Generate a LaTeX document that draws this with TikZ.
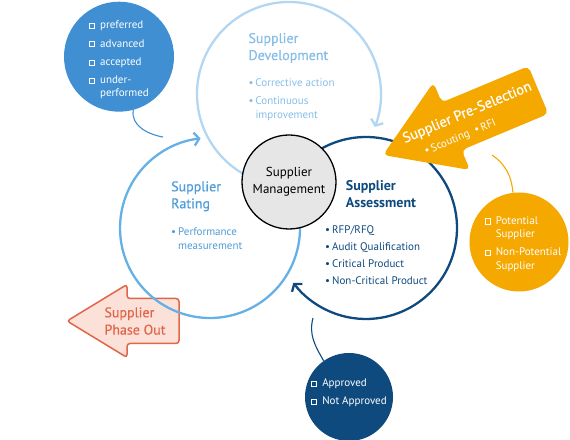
\documentclass[tikz,border=0pt]{standalone}
\usepackage{fontspec}
\setmainfont{PT Sans}
\newfontfamily\medfont[FakeBold=0.5]{PT Sans}
\usetikzlibrary{arrows.meta,positioning}

\definecolor{devline}{HTML}{B3D7F2}
\definecolor{devtext}{HTML}{86BEE8}
\definecolor{ratline}{HTML}{65B0E4}
\definecolor{rattext}{HTML}{4E9CD8}
\definecolor{prefblue}{HTML}{3F8FD2}
\definecolor{navy}{HTML}{0F4A7E}
\definecolor{amber}{HTML}{F5A800}
\definecolor{salmon}{HTML}{E2654A}
\definecolor{salmonbg}{HTML}{FBE1D8}
\definecolor{mgmtgray}{HTML}{E6E6E6}

\newcommand\boxitem{\raisebox{0.7pt}{\setlength\fboxsep{0pt}\setlength\fboxrule{0.7pt}\fbox{\rule{0pt}{4.4pt}\hspace{4.4pt}}}\hspace{5.2pt}}
\newcommand\dotitem{\makebox[7pt][l]{\textbullet}}

\begin{document}
\begin{tikzpicture}[
  x=1pt, y=1pt,
  cyclearc/.style={line width=2.3pt, -{Straight Barb[length=5pt,width=13pt]}},
  satellite/.style={circle, inner sep=0pt},
  link/.style={line width=1.1pt},
  head/.style={anchor=base west, align=left, inner sep=0pt, font=\medfont\fontsize{14}{17}\selectfont},
  items/.style={anchor=base west, align=left, inner sep=0pt, font=\fontsize{11}{14}\selectfont},
  boxlist/.style={align=left, inner sep=0pt, text=white, font=\fontsize{11}{12.5}\selectfont}
]
\useasboundingbox (0,0) rectangle (570,439);

% centres of the three cycle circles
\coordinate (dev) at (289,345);
\coordinate (rat) at (210,211);
\coordinate (ass) at (366,211);

% phase out arrow
\filldraw[fill=salmonbg, draw=salmon, line width=1.5pt, rounded corners=3pt]
  (67,118) -- (127,154.5) -- (127,140.5) -- (179,140.5) -- (179,95.5) -- (127,95.5) -- (127,81.5) -- cycle;
\node[align=left, inner sep=0pt, text=salmon, font=\medfont\fontsize{14}{17.3}\selectfont] (phaseout) at (135,118) {Supplier\\Phase Out};

% the cycle
\draw[cyclearc, devline] (dev) ++(250:92) arc[start angle=250, end angle=-21, radius=92];
\draw[cyclearc, ratline] (rat) ++(15:90) arc[start angle=15, end angle=-264, radius=90];
\draw[cyclearc, navy] (ass) ++(130:91) arc[start angle=130, end angle=-143, radius=91];

\node[circle, draw, line width=1.3pt, fill=mgmtgray, minimum size=94pt, inner sep=0pt, align=center,
  font=\fontsize{13}{16.7}\selectfont] (mgmt) at (289,257) {Supplier\\Management};

% pre-selection arrow
\begin{scope}[shift={(383,284)}, rotate=22.7]
  \fill[amber, rounded corners=5pt] (0,0) -- (74.5,47.4) -- (74.5,25.8) -- (168.4,25.8)
    -- (168.4,-25.8) -- (74.5,-25.8) -- (74.5,-47.4) -- cycle;
  \node[rotate=22.7, align=left, inner sep=0pt, text=white, font=\medfont\fontsize{14.5}{19}\selectfont] (presel) at (94,-3)
    {Supplier Pre-Selection\\\hspace*{15pt}{\normalfont\fontsize{11}{13}\selectfont\dotitem Scouting\hspace{6pt}\dotitem RFI}};
\end{scope}

% satellites
\node[satellite, fill=prefblue, minimum size=110pt] (pref) at (119,382.3) {};
\node[boxlist] (preflist) at ([yshift=-3pt]pref.center) {\boxitem preferred\\[5.8pt]\boxitem advanced\\[5.8pt]\boxitem accepted\\[5.8pt]\boxitem under-\\\hphantom{\boxitem}performed};

\node[satellite, fill=amber, minimum size=99pt] (potential) at (519,197) {};
\node[boxlist, font=\fontsize{11}{13.4}\selectfont] (potlist) at ([xshift=4pt,yshift=-2pt]potential.center)
  {\boxitem Potential\\\hphantom{\boxitem}Supplier\\[4.9pt]\boxitem Non-Potential\\\hphantom{\boxitem}Supplier};

\node[satellite, fill=navy, minimum size=88pt] (approval) at (349,42) {};
\node[boxlist, font=\fontsize{11}{12}\selectfont] (applist) at ([yshift=4pt]approval.center)
  {\boxitem Approved\\[5.7pt]\boxitem Not Approved};

\coordinate (prefend) at (163,302);
\draw[link, prefblue] (pref.-75) to[out=-100, in=170] (prefend);
\coordinate (preselend) at (492,284);
\draw[link, amber] (preselend) to[out=-35, in=95] (potential.97);
\coordinate (assend) at (313,121);
\draw[link, navy] (assend) to[out=-105, in=120] (approval.125);

% texts of the cycle (base = last line)
\node[head, text=devtext] (devhead) at (248.3,379) {Supplier\\Development};
\node[items, text=devtext] (devitems) at (248.3,320.7)
  {\dotitem Corrective action\\[3.6pt]\dotitem Continuous\\\hphantom{\dotitem}improvement};

\node[head, text=rattext] (rathead) at (171,230.7) {Supplier\\Rating};
\node[items, text=rattext, font=\fontsize{11}{13.3}\selectfont] (ratitems) at (171,189.7)
  {\dotitem Performance\\\hphantom{\dotitem}measurement};

\node[head, text=navy, font=\bfseries\fontsize{14}{17}\selectfont] (asshead) at (345.7,231.7) {Supplier\\Assessment};
\node[items, text=navy, font=\fontsize{11}{17.3}\selectfont] (assitems) at (325,154)
  {\dotitem RFP/RFQ\\\dotitem Audit Qualification\\\dotitem Critical Product\\\dotitem Non-Critical Product};
\end{tikzpicture}
\end{document}
